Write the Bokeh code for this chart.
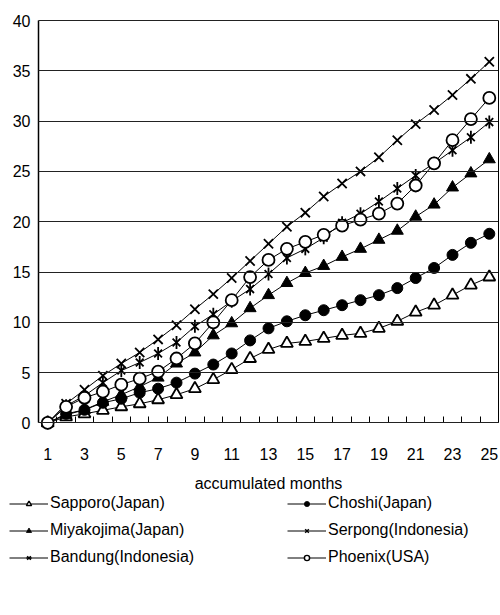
import math
from bokeh.plotting import figure
from bokeh.models import Legend, LegendItem, FixedTicker, Range1d, LinearAxis
from bokeh.embed import file_html
from bokeh.resources import INLINE

# ---- data ----
months = list(range(1, 26))
x_tick_values = [1, 3, 5, 7, 9, 11, 13, 15, 17, 19, 21, 23, 25]
x_tick_labels = ["1", "3", "5", "7", "9", "11", "13", "15", "17", "19", "21", "23", "25"]
y_tick_values = [0, 5, 10, 15, 20, 25, 30, 35, 40]

sapporo = [0, 0.6, 0.9, 1.25, 1.6, 1.9, 2.3, 2.8, 3.4, 4.3, 5.3, 6.4, 7.3, 7.9, 8.1, 8.4,
           8.7, 8.9, 9.4, 10.1, 11.0, 11.7, 12.7, 13.7, 14.5]
choshi = [0, 0.9, 1.3, 2.0, 2.4, 3.0, 3.4, 4.0, 4.9, 5.8, 6.9, 8.2, 9.4, 10.1, 10.7, 11.2,
          11.7, 12.2, 12.7, 13.4, 14.4, 15.4, 16.7, 17.9, 18.8]
miyakojima = [0, 0.8, 1.3, 2.1, 2.8, 3.6, 4.5, 5.9, 7.0, 8.7, 9.9, 11.4, 12.7, 13.9, 14.9,
              15.6, 16.5, 17.3, 18.2, 19.1, 20.5, 21.7, 23.4, 24.8, 26.2]
serpong = [0, 1.9, 3.3, 4.7, 5.9, 7.0, 8.3, 9.7, 11.3, 12.8, 14.4, 16.1, 17.8, 19.5, 20.9,
           22.5, 23.8, 25.0, 26.4, 28.1, 29.7, 31.1, 32.6, 34.2, 35.9]
bandung = [0, 1.7, 2.7, 4.0, 5.2, 6.0, 6.9, 8.0, 9.6, 10.8, 12.1, 13.3, 14.8, 16.4, 17.3,
           18.4, 19.9, 20.8, 22.0, 23.3, 24.6, 25.8, 27.1, 28.4, 29.9]
phoenix = [0, 1.6, 2.5, 3.1, 3.8, 4.4, 5.1, 6.4, 7.9, 10.0, 12.2, 14.5, 16.2, 17.3, 18.0,
           18.7, 19.6, 20.2, 20.8, 21.8, 23.6, 25.8, 28.1, 30.2, 32.3]

series_names = ["Sapporo(Japan)", "Choshi(Japan)", "Miyakojima(Japan)",
                "Serpong(Indonesia)", "Bandung(Indonesia)", "Phoenix(USA)"]
series_values = [sapporo, choshi, miyakojima, serpong, bandung, phoenix]

# marker style per series: (marker, fill, size, line_width, extra overlay marker)
styles = [
    ("triangle", "white", 12, 1.8, None),
    ("circle", "black", 11, 1, None),
    ("triangle", "black", 12, 1, None),
    ("x", None, 13, 1.8, None),
    ("x", None, 11, 1.8, ("dash", 13, math.pi / 2)),
    ("circle", "white", 12, 1.8, None),
]
LEGEND_SCALE = 0.68

FONT = "Liberation Sans"

# ---- layout geometry (pixels) ----
W, H = 499, 600
PLOT_L, PLOT_R, PLOT_T, PLOT_B = 38, 498, 20, 422.4
X0, X1 = 0.5, 25.5
Y0, Y1 = 0, 40
xs = (PLOT_R - PLOT_L) / (X1 - X0)
ys_ = (PLOT_B - PLOT_T) / (Y1 - Y0)
x_range = Range1d(X0 - PLOT_L / xs, X1 + (W - PLOT_R) / xs)
y_range = Range1d(Y0 - (H - PLOT_B) / ys_, Y1 + PLOT_T / ys_)

p = figure(width=W, height=H, output_backend="svg", toolbar_location=None,
           x_range=x_range, y_range=y_range,
           min_border_left=0, min_border_right=0, min_border_top=0, min_border_bottom=0)
p.background_fill_color = "white"
p.border_fill_color = "white"
p.outline_line_color = None
p.xgrid.visible = False
p.ygrid.visible = False

xa = p.xaxis[0]
xa.fixed_location = Y0
xa.bounds = (X0, X1)
xa.ticker = FixedTicker(ticks=x_tick_values, minor_ticks=[m + 0.5 for m in months[:-1]])
xa.major_label_overrides = {v: l for v, l in zip(x_tick_values, x_tick_labels)}
xa.major_tick_line_color = None
xa.minor_tick_in = 6
xa.minor_tick_out = 0
xa.minor_tick_line_color = "black"
xa.axis_line_color = "black"
xa.major_label_text_font = FONT
xa.major_label_text_font_size = "16px"
xa.major_label_text_color = "black"
xa.major_label_standoff = 19
xa.axis_label = "accumulated months"
xa.axis_label_text_font = FONT
xa.axis_label_text_font_size = "16px"
xa.axis_label_text_font_style = "normal"
xa.axis_label_text_color = "black"
xa.axis_label_standoff = 12

ya = p.yaxis[0]
ya.fixed_location = X0
ya.bounds = (Y0, Y1)
ya.ticker = FixedTicker(ticks=y_tick_values)
ya.major_tick_in = PLOT_R - PLOT_L   # horizontal grid lines across the plot area
ya.major_tick_out = 0
ya.major_tick_line_color = "#222222"
ya.minor_tick_line_color = None
ya.axis_line_color = "black"
ya.axis_line_width = 1.5
ya.major_label_text_font = FONT
ya.major_label_text_font_size = "16px"
ya.major_label_text_color = "black"
ya.major_label_standoff = 8

# right border of the plot area
ra = LinearAxis(fixed_location=X1, bounds=(Y0, Y1), ticker=FixedTicker(ticks=[]),
                major_tick_line_color=None, minor_tick_line_color=None,
                major_label_text_alpha=0, axis_line_color="black", axis_line_width=1)
p.add_layout(ra, "right")


def draw(ys, style, scale=1.0, visible=True):
    marker, fill, size, lw, extra = style
    lw2 = lw * (0.8 if scale < 1 else 1)
    rs = [p.line(months, ys, line_color="black", line_width=1, visible=visible)]
    rs.append(p.scatter(months, ys, marker=marker, size=size * scale, fill_color=fill,
                        line_color="black", line_width=lw2, visible=visible))
    if extra is not None:
        rs.append(p.scatter(months, ys, marker=extra[0], size=extra[1] * scale,
                            angle=extra[2], line_color="black", line_width=lw2,
                            visible=visible))
    return rs


for ys, st in zip(series_values, styles):
    draw(ys, st)

# legend samples: the same series with smaller markers, hidden in the plot itself
items = {}
for name, ys, st in zip(series_names, series_values, styles):
    items[name] = LegendItem(label=name, renderers=draw(ys, st, scale=LEGEND_SCALE,
                                                         visible=False))


def make_legend(names, loc):
    lg = Legend(items=[items[n] for n in names], location=loc,
                padding=0, margin=0, spacing=7,
                glyph_width=39, glyph_height=13, label_height=20,
                label_standoff=2,
                label_text_font=FONT, label_text_font_size="16px",
                label_text_color="black", inactive_fill_alpha=0,
                border_line_color=None, background_fill_alpha=0)
    p.add_layout(lg, "center")


make_legend(["Sapporo(Japan)", "Miyakojima(Japan)", "Bandung(Indonesia)"], (9, 33))
make_legend(["Choshi(Japan)", "Serpong(Indonesia)", "Phoenix(USA)"], (287, 33))

open("out.html", "w").write(file_html(p, INLINE))
